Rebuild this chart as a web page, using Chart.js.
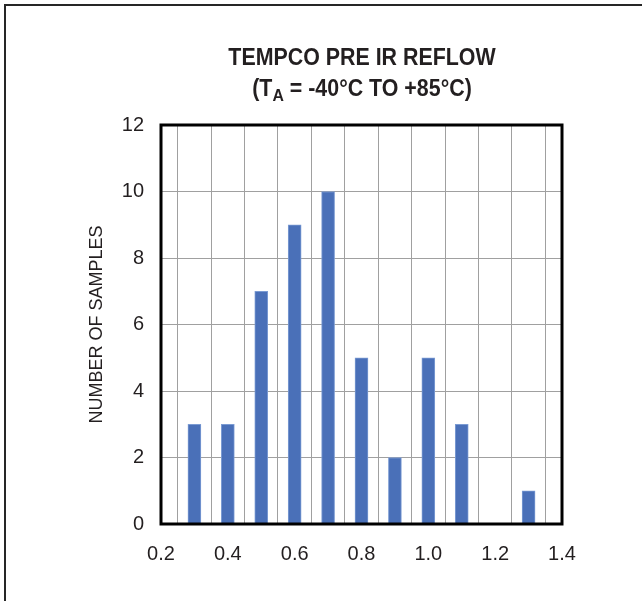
<!DOCTYPE html>
<html>
<head>
<meta charset="utf-8">
<script src="https://cdn.jsdelivr.net/npm/chart.js@4"></script>
<style>
  body { margin: 0; background: #fff; }
  #wrap { position: relative; width: 642px; height: 601px; overflow: hidden; }
  #frame { position: absolute; left: 4px; top: 4px; right: -10px; bottom: -10px;
           border-left: 2px solid #262626; border-top: 2px solid #262626; }
  #title { position: absolute; left: 162px; width: 400px; top: 42px; text-align: center;
           font-family: 'Liberation Sans', Arial, sans-serif;
           font-weight: bold; font-size: 23px; line-height: 31px; color: #231f20;
           transform: scaleX(0.93); transform-origin: 200px 0; }
  #title sub { font-size: 17px; vertical-align: -5px; line-height: 0; }
  canvas { position: absolute; left: 0; top: 0; }
</style>
</head>
<body>
<div id="wrap">
  <div id="frame"></div>
  <canvas id="tempcoChart" width="642" height="601"></canvas>
  <div id="title">TEMPCO PRE IR REFLOW<br>(T<sub>A</sub> = -40°C TO +85°C)</div>
</div>
<script>
// tempco bins and counts
const tempcoBins = [0.3, 0.4, 0.5, 0.6, 0.7, 0.8, 0.9, 1.0, 1.1, 1.2, 1.3];
const sampleCounts = [3, 3, 7, 9, 10, 5, 2, 5, 3, 0, 1];
const xTickLabels = ['0.2', '0.4', '0.6', '0.8', '1.0', '1.2', '1.4'];
const yTickLabels = ['0', '2', '4', '6', '8', '10', '12'];

const FONT = "'Liberation Sans', Arial, sans-serif";

// black box round the plot area
const plotBox = {
    id: 'plotBox',
    afterDatasetsDraw(chart) {
        const a = chart.chartArea;
        const ctx = chart.ctx;
        ctx.save();
        ctx.strokeStyle = '#000';
        ctx.lineWidth = 3;
        ctx.strokeRect(a.left, a.top, a.right - a.left, a.bottom - a.top);
        ctx.restore();
    }
};

new Chart(document.getElementById('tempcoChart'), {
    type: 'bar',
    data: {
        datasets: [{
            data: tempcoBins.map((b, i) => ({ x: b, y: sampleCounts[i] })),
            backgroundColor: '#4a70b8',
            borderColor: '#7b9bd3',
            borderWidth: 1,
            barThickness: 13
        }]
    },
    options: {
        responsive: false,
        animation: false,
        layout: { padding: { left: 0, right: 80, top: 125, bottom: 0 } },
        plugins: { legend: { display: false }, tooltip: { enabled: false } },
        scales: {
            x: {
                type: 'linear',
                min: 0.2,
                max: 1.4,
                offset: false,
                grid: { color: '#a0a0a0', lineWidth: 1, drawTicks: false },
                border: { display: false },
                ticks: {
                    stepSize: 0.1,
                    autoSkip: false,
                    maxRotation: 0,
                    padding: 18,
                    color: '#231f20',
                    font: { family: FONT, size: 20 },
                    callback: (v) => {
                        const k = Math.round(v * 10);
                        return k % 2 === 0 ? xTickLabels[(k - 2) / 2] : '';
                    }
                },
                afterFit: (s) => { s.height = 77; }
            },
            y: {
                min: 0,
                max: 12,
                grid: { color: '#a0a0a0', lineWidth: 1, drawTicks: false },
                border: { display: false },
                ticks: {
                    stepSize: 2,
                    padding: 17,
                    color: '#231f20',
                    font: { family: FONT, size: 20 },
                    callback: (v) => yTickLabels[Math.round(v / 2)]
                },
                title: {
                    display: true,
                    text: 'NUMBER OF SAMPLES',
                    color: '#231f20',
                    font: { family: FONT, size: 18 },
                    padding: { top: 86, bottom: 0 }
                },
                afterFit: (s) => { s.width = 161; }
            }
        }
    },
    plugins: [plotBox]
});
</script>
</body>
</html>
